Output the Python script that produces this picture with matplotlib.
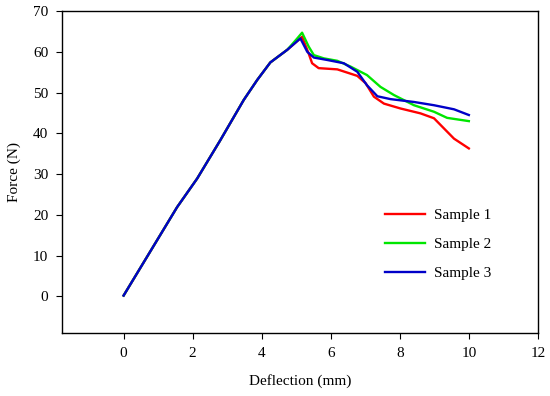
import matplotlib.pyplot as plt

plt.rcParams['font.family'] = ['Liberation Serif', 'DejaVu Serif']

# Force-deflection data (shared loading part)
x_rise = [0.0, 0.5, 1.0, 1.55, 2.13, 2.8, 3.48, 3.87, 4.25, 4.74]
y_rise = [0.2, 7.2, 14.2, 21.9, 28.9, 38.3, 48.2, 53.1, 57.4, 60.5]

x1 = x_rise + [5.17, 5.36, 5.46, 5.65, 6.19, 6.77, 7.01, 7.25, 7.54, 8.02, 8.6, 8.99, 9.28, 9.57, 10.0]
y1 = y_rise + [63.7, 59.6, 57.2, 56.0, 55.7, 54.1, 52.3, 49.0, 47.3, 46.1, 44.9, 43.7, 41.2, 38.7, 36.3]

x2 = x_rise + [5.0, 5.17, 5.36, 5.51, 5.8, 6.19, 6.57, 7.05, 7.44, 7.83, 8.41, 8.99, 9.37, 10.0]
y2 = y_rise + [63.0, 64.7, 61.3, 59.2, 58.4, 57.8, 56.4, 54.3, 51.4, 49.4, 46.9, 45.3, 43.8, 43.0]

x3 = x_rise + [5.12, 5.32, 5.51, 5.9, 6.38, 6.77, 7.05, 7.35, 7.73, 8.41, 8.99, 9.57, 10.0]
y3 = y_rise + [63.3, 60.0, 58.6, 58.0, 57.2, 55.1, 51.8, 49.1, 48.4, 47.7, 46.9, 45.9, 44.5]

labels = ['Sample 1', 'Sample 2', 'Sample 3']
colors = ['#ff0000', '#00e600', '#0000c8']

fig = plt.figure(figsize=(5.5, 3.96), dpi=100)
ax = fig.add_axes([0.113, 0.159, 0.865, 0.813])

for xs, ys, lab, c in zip([x1, x2, x3], [y1, y2, y3], labels, colors):
    ax.plot(xs, ys, color=c, lw=1.7, label=lab, solid_joinstyle='round')

ax.set_xlim(-1.78, 12)
ax.set_ylim(-9, 70)
ax.set_xticks(range(0, 13, 2))
ax.set_yticks(range(0, 71, 10))
ax.tick_params(direction='out', length=4, labelsize=11, pad=6, top=False, right=False)
ax.set_xlabel('Deflection (mm)', fontsize=11, labelpad=10)
ax.set_ylabel('Force (N)', fontsize=11, labelpad=9)
for s in ax.spines.values():
    s.set_linewidth(1.0)

ax.legend(loc='upper left', bbox_to_anchor=(0.65, 0.43), frameon=False,
          fontsize=11, handlelength=2.6, labelspacing=1.0, handletextpad=0.6)

fig.savefig('out.png', dpi=100)
